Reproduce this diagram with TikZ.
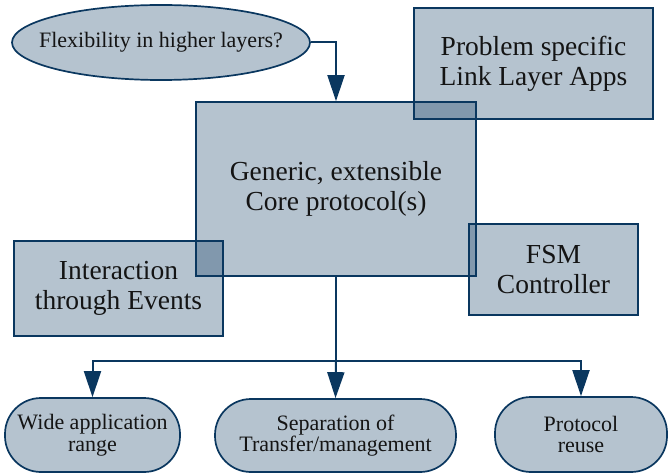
\documentclass[tikz,border=0pt]{standalone}
\usepackage{fontspec}
\setmainfont{Liberation Serif}
\usetikzlibrary{arrows.meta,positioning,shapes.geometric}
\definecolor{navy}{HTML}{0A375F}
\definecolor{ink}{HTML}{141414}

\tikzset{
  block/.style={draw=navy,line width=1.7pt,fill=navy,fill opacity=0.3,text opacity=1,
    text=ink,align=center,inner sep=0pt,font=\fontsize{27.5}{30}\selectfont},
  goal/.style={draw=navy,line width=1.7pt,fill=navy,fill opacity=0.3,text opacity=1,
    text=ink,align=center,inner sep=0pt,font=\fontsize{22}{21.5}\selectfont},
  link/.style={draw=navy,line width=2pt},
}

\begin{document}
\begin{tikzpicture}[x=1pt,y=-1pt,>={Triangle[length=26pt,width=17pt]}]
\useasboundingbox (0,0) rectangle (668,473);
% core and the boxes around it
\node[block,minimum width=280pt,minimum height=174pt] (core) at (336,189) {Generic, extensible\\Core protocol(s)};
\node[block,minimum width=239pt,minimum height=111pt] (apps) at (533.5,63.5) {Problem specific\\Link Layer Apps};
\node[block,minimum width=169pt,minimum height=91pt] (fsm) at (553.5,269.5) {FSM\\Controller};
\node[block,minimum width=209pt,minimum height=95pt] (events) at (118.5,288.5) {Interaction\\through Events};
% question on top
\node[goal,ellipse,minimum width=298pt,minimum height=75pt] (flex) at (161,42.5) {\makebox[0pt]{Flexibility in higher layers?}};
\draw[link,->] (flex.east) -| (core.north);
% what it gives
\node[goal,rounded corners=36pt,minimum width=175pt,minimum height=74pt] (wide) at (92.5,435) {Wide application\\range};
\node[goal,rounded corners=36pt,minimum width=241pt,minimum height=73pt] (sep) at (335.5,435.5) {Separation of\\Transfer/management};
\node[goal,rounded corners=36pt,minimum width=172pt,minimum height=75pt] (reuse) at (581,434.5) {Protocol\\reuse};
\coordinate (fork) at (336,361);
\draw[link] (core.south) -- (fork);
\draw[link,->] (fork) -- (sep.north);
\draw[link,->] (fork) -| (wide.north);
\draw[link,->] (fork) -| (reuse.north);
\end{tikzpicture}
\end{document}
